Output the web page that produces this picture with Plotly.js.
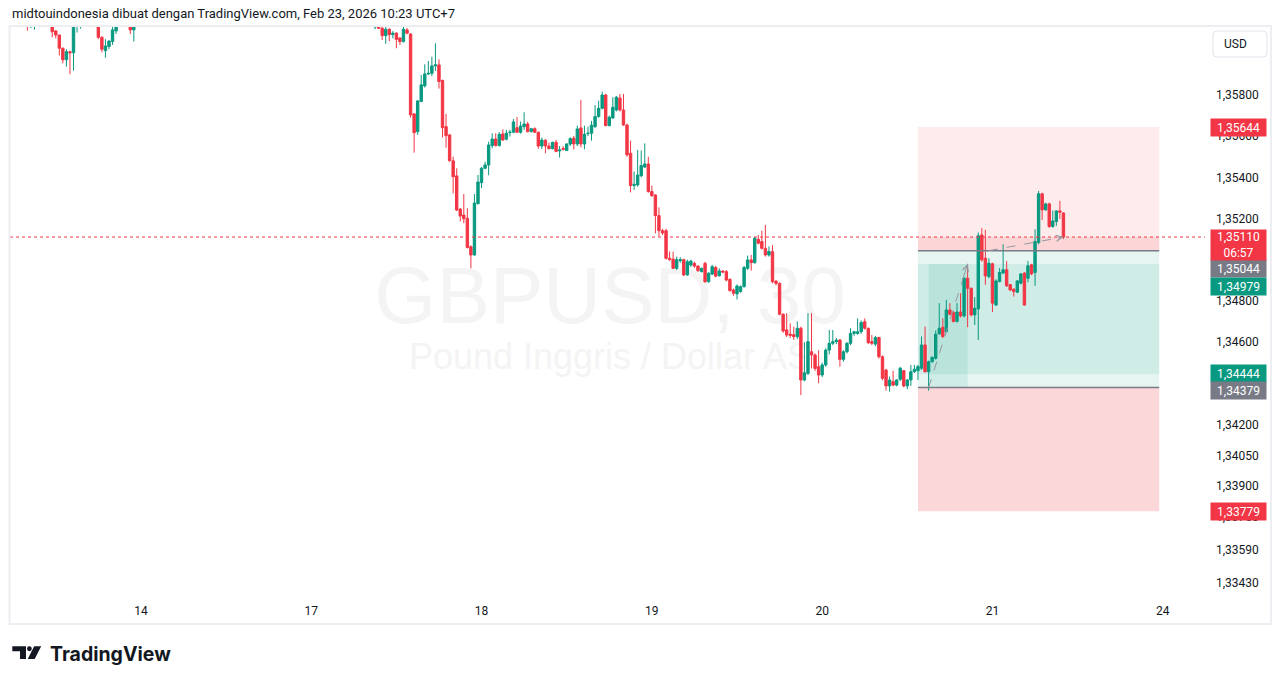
<!DOCTYPE html>
<html><head><meta charset="utf-8">
<script src="https://cdn.plot.ly/plotly-3.0.1.min.js"></script>
<style>html,body{margin:0;padding:0;background:#fff;}#chart{width:1281px;height:684px;}</style>
</head><body><div id="chart"></div>
<script>
// ---------- DATA (GBPUSD 30m, candle index; 48 candles per day) ----------
const dayTickIdx = [0, 48, 96, 144, 192, 240, 288];
const dayTickText = ['14', '17', '18', '19', '20', '21', '24'];

// segment 1: candles idx -32 .. -2 (mostly above visible range)
const seg1Start = -32;
const open1  = [1.3618,1.3614,1.3615,null,null,null,null,1.3617,1.36111,1.36091,1.36027,1.35971,1.36010,1.36005,1.3614,1.3616,null,null,null,null,1.3615,1.36080,1.36015,1.36035,1.36060,1.36111,null,null,null,1.3616,1.36116];
const high1  = [1.3620,1.3619,1.3619,null,null,null,null,1.3619,1.36115,1.36093,1.3603,1.36022,1.36015,1.3617,1.3620,1.3621,null,null,null,null,1.3617,1.36085,1.36071,1.36065,1.3614,1.3617,null,null,null,1.3618,1.3618];
const low1   = [1.36112,1.36125,1.36117,null,null,null,null,1.36080,1.36075,1.35991,1.35954,1.35937,1.35901,1.35918,1.36103,1.36122,null,null,null,null,1.36071,1.36007,1.35981,1.36022,1.36043,1.36096,null,null,null,1.36096,1.36059];
const close1 = [1.3616,1.3617,1.3618,null,null,null,null,1.36107,1.36091,1.36027,1.35971,1.36010,1.36005,1.3614,1.3618,1.3619,null,null,null,null,1.36080,1.36022,1.36038,1.36062,1.36116,1.3615,null,null,null,1.36116,1.3616];

// segment 2: candles idx 66 .. 260
const seg2Start = 66;
const open2 = [
 1.3613,1.3614,1.36124,1.36088,1.36119,1.36093,1.36100,1.36077,1.36059,1.36116,
 1.36096,1.35708,1.35622,1.35768,1.35844,1.35902,1.35905,1.35941,1.35946,1.35870,
 1.35646,1.35606,1.35480,1.35407,1.35246,1.35217,1.35201,1.35063,1.35023,1.35272,
 1.35374,1.35444,1.35460,1.35554,1.35586,1.35554,1.35611,1.35585,1.35617,1.35619,
 1.35641,1.35619,1.35646,1.35659,1.35622,1.35636,1.35619,1.35552,1.35580,1.35552,
 1.35539,1.35570,1.35528,1.35540,1.35530,1.35562,1.35590,1.35562,1.35640,1.35562,
 1.35612,1.35614,1.35646,1.35695,1.35735,1.35800,1.35651,1.35688,1.35727,1.35785,
 1.35727,1.35654,1.35517,1.35360,1.35363,1.35408,1.35450,1.35465,1.35331,1.35314,
 1.35214,1.35141,1.35141,1.35007,1.35003,1.34958,1.34995,1.35000,1.34926,1.34974,
 1.34982,1.34969,1.34942,1.34982,1.34893,1.34930,1.34962,1.34922,1.34945,1.34942,
 1.34904,1.34853,1.34834,1.34845,1.34869,1.34958,1.34999,1.34986,1.35099,1.35088,
 1.35055,1.35023,1.35039,1.34896,1.34885,1.34735,1.34659,1.34638,1.34636,1.34626,
 1.34667,1.34416,1.34448,1.34553,1.34537,1.34480,1.34440,1.34489,1.34561,1.34594,
 1.34602,1.34610,1.34516,1.34553,1.34594,1.34642,1.34642,1.34650,1.34699,1.34667,
 1.34602,1.34590,1.34622,1.34529,1.34464,1.34387,1.34408,1.34391,1.34419,1.34461,
 1.34387,1.34416,1.34456,1.34461,1.34473,1.34586,1.34456,1.34505,1.34521,1.34640,
 1.34672,1.34651,1.34756,1.34743,1.34700,1.34746,1.34727,1.34910,1.34861,1.34732,
 1.34761,1.35120,1.35007,1.34918,1.34980,1.34780,1.34894,1.34935,1.34951,1.34879,
 1.34857,1.34842,1.34886,1.34935,1.34910,1.34975,1.34938,1.35083,1.35320,1.35242,
 1.35271,1.35161,1.35185,1.35237,1.35227];
const high2 = [
 1.3617,1.3616,1.3614,1.3613,1.36124,1.36110,1.36105,1.36080,1.3614,1.36125,
 1.36100,1.35712,1.35775,1.35897,1.35949,1.35965,1.35986,1.36051,1.35973,1.35875,
 1.35708,1.35610,1.35500,1.35444,1.35250,1.35319,1.35250,1.35070,1.35319,1.35411,
 1.35450,1.35476,1.35573,1.35614,1.35614,1.35620,1.35633,1.35630,1.35630,1.35683,
 1.35692,1.35671,1.35716,1.35669,1.35640,1.35643,1.35622,1.35593,1.35585,1.35568,
 1.35573,1.35581,1.35552,1.35552,1.35565,1.35594,1.35601,1.35651,1.35776,1.35651,
 1.35646,1.35674,1.35751,1.35772,1.35816,1.35805,1.35700,1.35789,1.35795,1.35805,
 1.35805,1.35660,1.35578,1.35428,1.35533,1.35530,1.35565,1.35500,1.35360,1.35318,
 1.35254,1.35150,1.35150,1.35040,1.35039,1.35015,1.35012,1.35005,1.35000,1.35000,
 1.34990,1.34972,1.34962,1.34990,1.34940,1.34975,1.34970,1.34958,1.34948,1.34950,
 1.34910,1.34860,1.34880,1.34875,1.34970,1.35020,1.35023,1.35112,1.35120,1.35141,
 1.35169,1.35065,1.35071,1.34900,1.34890,1.34740,1.34740,1.34691,1.34675,1.34700,
 1.34675,1.34600,1.34740,1.34740,1.34545,1.34560,1.34500,1.34570,1.34659,1.34659,
 1.34620,1.34615,1.34560,1.34600,1.34667,1.34655,1.34715,1.34705,1.34715,1.34670,
 1.34634,1.34630,1.34626,1.34535,1.34470,1.34432,1.34460,1.34420,1.34480,1.34465,
 1.34420,1.34489,1.34489,1.34489,1.34627,1.34675,1.34510,1.34530,1.34656,1.34789,
 1.34716,1.34805,1.34789,1.34750,1.34789,1.34837,1.34915,1.34980,1.34865,1.34818,
 1.35132,1.35153,1.35145,1.35007,1.34985,1.34905,1.34959,1.35075,1.34993,1.34882,
 1.34860,1.34900,1.34935,1.34940,1.34994,1.34980,1.35148,1.35334,1.35325,1.35277,
 1.35277,1.35239,1.35240,1.35286,1.35230];
const low2 = [
 1.36119,1.36120,1.36067,1.36048,1.36061,1.36075,1.36027,1.36043,1.36055,1.36095,
 1.35690,1.35520,1.35606,1.35765,1.35836,1.35897,1.35892,1.35917,1.35831,1.35593,
 1.35544,1.35476,1.35322,1.35236,1.35186,1.35177,1.35055,1.34958,1.35020,1.35268,
 1.35347,1.35439,1.35410,1.35541,1.35550,1.35550,1.35578,1.35580,1.35598,1.35614,
 1.35615,1.35612,1.35630,1.35618,1.35618,1.35615,1.35539,1.35538,1.35517,1.35536,
 1.35536,1.35522,1.35496,1.35530,1.35528,1.35552,1.35536,1.35552,1.35546,1.35536,
 1.35600,1.35578,1.35640,1.35690,1.35730,1.35648,1.35648,1.35685,1.35720,1.35720,
 1.35650,1.35500,1.35327,1.35339,1.35355,1.35400,1.35445,1.35325,1.35305,1.35128,
 1.35112,1.35120,1.35000,1.34995,1.34955,1.34950,1.34985,1.34920,1.34922,1.34965,
 1.34960,1.34940,1.34938,1.34888,1.34888,1.34925,1.34915,1.34918,1.34935,1.34895,
 1.34845,1.34825,1.34807,1.34840,1.34865,1.34950,1.34947,1.34980,1.35075,1.35050,
 1.35015,1.35015,1.34885,1.34875,1.34730,1.34645,1.34625,1.34620,1.34610,1.34615,
 1.34343,1.34410,1.34440,1.34472,1.34460,1.34400,1.34430,1.34480,1.34540,1.34585,
 1.34590,1.34481,1.34505,1.34545,1.34585,1.34630,1.34635,1.34640,1.34660,1.34590,
 1.34585,1.34580,1.34520,1.34415,1.34364,1.34359,1.34385,1.34385,1.34410,1.34380,
 1.34371,1.34387,1.34450,1.34416,1.34465,1.34452,1.34364,1.34500,1.34515,1.34635,
 1.34620,1.34645,1.34730,1.34695,1.34695,1.34720,1.34720,1.34672,1.34724,1.34683,
 1.34610,1.34990,1.34878,1.34910,1.34746,1.34775,1.34890,1.34930,1.34868,1.34848,
 1.34821,1.34838,1.34880,1.34777,1.34890,1.34925,1.34873,1.35075,1.35193,1.35238,
 1.35155,1.35155,1.35164,1.35198,1.35100];
const close2 = [
 1.3615,1.36124,1.36088,1.36119,1.36093,1.36100,1.36070,1.36059,1.36119,1.36100,
 1.35703,1.35617,1.35771,1.35849,1.35902,1.35905,1.35941,1.35946,1.35865,1.35641,
 1.35602,1.35481,1.35403,1.35241,1.35212,1.35199,1.35059,1.35023,1.35275,1.35377,
 1.35444,1.35460,1.35557,1.35586,1.35554,1.35609,1.35581,1.35614,1.35619,1.35669,
 1.35619,1.35649,1.35659,1.35622,1.35636,1.35619,1.35552,1.35581,1.35552,1.35539,
 1.35570,1.35526,1.35533,1.35536,1.35562,1.35588,1.35562,1.35635,1.35562,1.35609,
 1.35614,1.35653,1.35695,1.35735,1.35800,1.35651,1.35692,1.35740,1.35789,1.35727,
 1.35654,1.35509,1.35360,1.35366,1.35411,1.35457,1.35465,1.35331,1.35311,1.35214,
 1.35141,1.35130,1.35007,1.35001,1.34958,1.35000,1.35000,1.34926,1.34990,1.34993,
 1.34969,1.34947,1.34958,1.34893,1.34934,1.34966,1.34920,1.34945,1.34940,1.34901,
 1.34850,1.34837,1.34872,1.34869,1.34962,1.34999,1.34986,1.35104,1.35080,1.35055,
 1.35023,1.35040,1.34893,1.34885,1.34735,1.34654,1.34634,1.34632,1.34626,1.34667,
 1.34416,1.34451,1.34602,1.34537,1.34472,1.34440,1.34489,1.34561,1.34594,1.34602,
 1.34610,1.34516,1.34553,1.34594,1.34642,1.34650,1.34650,1.34695,1.34667,1.34597,
 1.34594,1.34622,1.34529,1.34424,1.34387,1.34416,1.34391,1.34416,1.34473,1.34387,
 1.34416,1.34456,1.34468,1.34481,1.34586,1.34456,1.34505,1.34526,1.34638,1.34667,
 1.34627,1.34756,1.34735,1.34700,1.34746,1.34727,1.34910,1.34861,1.34732,1.34764,
 1.35116,1.34999,1.34921,1.34983,1.34789,1.34897,1.34938,1.34951,1.34873,1.34853,
 1.34845,1.34897,1.34931,1.34780,1.34970,1.34931,1.35088,1.35320,1.35242,1.35271,
 1.35161,1.35188,1.35237,1.35231,1.35110];

// y-axis tick values (1,35000 and 1,34400 are fully hidden under price labels in the reference)
const yTickVals = [1.358,1.356,1.354,1.352,1.348,1.346,1.342,1.3405,1.339,1.3375,1.3359,1.3343];

// position tools (prices) and their bar indexes
const shortEntry = 1.35044, shortStop = 1.35644, shortTarget = 1.34444;
const longEntry = 1.34379, longTarget = 1.34979, longStop = 1.33779;
const posStartIdx = 219, posEndIdx = 287;
const longEntryIdx = 222, longExitIdx = 233;
const shortLineIdx = 239;
const countdown = '06:57';

// ---------- BUILD ----------
const xs = [], O = [], Hh = [], L = [], C = [];
open1.forEach((v,i)=>{xs.push(seg1Start+i);O.push(v);Hh.push(high1[i]);L.push(low1[i]);C.push(close1[i]);});
open2.forEach((v,i)=>{xs.push(seg2Start+i);O.push(v);Hh.push(high2[i]);L.push(low2[i]);C.push(close2[i]);});
const lastClose = close2[close2.length-1];
const lastIdx = seg2Start + close2.length - 1;

const UP = '#089981', DN = '#f23645', GRAY = '#787b86', TXT = '#131722';
const FONT = 'Roboto, "Liberation Sans", Arial, sans-serif';
const fmt = v => v.toFixed(5).replace('.', ',');

const W = 1281, Hgt = 684, ML = 10, MR = 76, MT = 27, MB = 87;
const plotW = W - ML - MR, plotH = Hgt - MT - MB;
const px = X => (X - ML) / plotW;
const py = Y => (Hgt - MB - Y) / plotH;

const trace = {
  type: 'candlestick', x: xs, open: O, high: Hh, low: L, close: C,
  increasing: {line: {color: UP, width: 1}, fillcolor: UP},
  decreasing: {line: {color: DN, width: 1}, fillcolor: DN},
  whiskerwidth: 0, hoverinfo: 'skip', showlegend: false
};

const shapes = [];
function rectY(x0, x1, y0, y1, fill, layer) {
  shapes.push({type:'rect', xref:'x', yref:'y', x0, x1, y0, y1, fillcolor: fill, line:{width:0}, layer: layer||'below'});
}
// watermark
shapes.push({type:'rect', xref:'paper', yref:'paper', x0:px(510), x1:px(710), y0:py(317), y1:py(257),
  line:{width:0}, fillcolor:'rgba(0,0,0,0)', layer:'below',
  label:{text:'GBPUSD, 30', textposition:'middle center', font:{size:80, color:'#f4f4f4', family:'"Liberation Sans", Arial, sans-serif'}}});
shapes.push({type:'rect', xref:'paper', yref:'paper', x0:px(510), x1:px(710), y0:py(370), y1:py(336),
  line:{width:0}, fillcolor:'rgba(0,0,0,0)', layer:'below',
  label:{text:'Pound Inggris / Dollar AS', textposition:'middle center', font:{size:36, color:'#f4f4f4', family:'"Liberation Sans", Arial, sans-serif'}}});

// position boxes
rectY(posStartIdx, posEndIdx, shortEntry, shortStop, 'rgba(242,54,69,0.10)');
rectY(posStartIdx, posEndIdx, shortEntry, lastClose, 'rgba(242,54,69,0.12)');
rectY(posStartIdx, posEndIdx, shortTarget, shortEntry, 'rgba(8,153,129,0.10)');
rectY(posStartIdx, posEndIdx, longEntry, longTarget, 'rgba(8,153,129,0.10)');
rectY(longEntryIdx, longExitIdx, longEntry, longTarget, 'rgba(8,153,129,0.10)');
rectY(posStartIdx, posEndIdx, longStop, longEntry, 'rgba(242,54,69,0.20)');
// entry lines
[shortEntry, longEntry].forEach(v => shapes.push({type:'line', xref:'x', yref:'y', x0:posStartIdx, x1:posEndIdx, y0:v, y1:v, line:{color:GRAY, width:1.5}, layer:'above'}));
// current price dotted line
shapes.push({type:'line', xref:'paper', yref:'y', x0:0, x1:1, y0:lastClose, y1:lastClose, line:{color:DN, width:1, dash:'dot'}, layer:'above'});
// trade path dashed lines
shapes.push({type:'line', xref:'x', yref:'y', x0:longEntryIdx, y0:longEntry, x1:longExitIdx, y1:longTarget, line:{color:'#9598a1', width:1, dash:'dash'}, layer:'above'});
shapes.push({type:'line', xref:'x', yref:'y', x0:shortLineIdx, y0:shortEntry, x1:lastIdx, y1:lastClose, line:{color:'#9598a1', width:1, dash:'dash'}, layer:'above'});

// frame
shapes.push({type:'rect', xref:'paper', yref:'paper', x0:px(9.5), x1:px(1271), y0:py(624), y1:py(26), line:{color:'#eceef2', width:2}, fillcolor:'rgba(0,0,0,0)', layer:'above'});
// USD box
(function(){
  const x1=1213,x2=1267,y1=31,y2=57,r=4;
  const P=(X,Y)=>px(X)+','+py(Y);
  const path='M'+P(x1+r,y1)+' L'+P(x2-r,y1)+' Q'+P(x2,y1)+' '+P(x2,y1+r)+' L'+P(x2,y2-r)+' Q'+P(x2,y2)+' '+P(x2-r,y2)+' L'+P(x1+r,y2)+' Q'+P(x1,y2)+' '+P(x1,y2-r)+' L'+P(x1,y1+r)+' Q'+P(x1,y1)+' '+P(x1+r,y1)+' Z';
  shapes.push({type:'path', xref:'paper', yref:'paper', path, line:{color:'#e0e3eb', width:1}, fillcolor:'#ffffff', layer:'above'});
})();
// TradingView logo glyph
(function(){
  const P=(X,Y)=>px(X)+','+py(Y);
  const poly = pts => 'M' + pts.map(p=>P(p[0],p[1])).join(' L') + ' Z';
  shapes.push({type:'path', xref:'paper', yref:'paper', path: poly([[12.3,646.3],[26,646.3],[26,659],[20,659],[20,651.2],[12.3,651.2]]), line:{width:0}, fillcolor:TXT, layer:'above'});
  shapes.push({type:'circle', xref:'paper', yref:'paper', x0:px(27), x1:px(31.8), y0:py(651.2), y1:py(646.3), line:{width:0}, fillcolor:TXT, layer:'above'});
  shapes.push({type:'path', xref:'paper', yref:'paper', path: poly([[34.2,646.3],[41.2,646.3],[34.7,659],[27.7,659]]), line:{width:0}, fillcolor:TXT, layer:'above'});
})();

const annotations = [];
// header
annotations.push({xref:'paper', yref:'paper', x:px(10), y:py(14), xanchor:'left', yanchor:'middle', showarrow:false,
  text:'midtouindonesia dibuat dengan TradingView.com, Feb 23, 2026 10:23 UTC+7', font:{family:FONT, size:13, color:TXT}});
// logo text
annotations.push({xref:'paper', yref:'paper', x:px(48), y:py(654), xanchor:'left', yanchor:'middle', showarrow:false,
  text:'TradingView', font:{family:'Inter, Roboto, sans-serif', size:19.5, color:TXT, weight:700}});
// USD
annotations.push({xref:'paper', yref:'paper', x:px(1222), y:py(44), xanchor:'left', yanchor:'middle', showarrow:false,
  text:'USD', font:{family:FONT, size:12, color:TXT}});
// price labels
function priceLabel(v, bg, shift) {
  annotations.push({xref:'paper', yref:'y', x:px(1210), y:v, xanchor:'left', yanchor:'middle', yshift:shift||0,
    showarrow:false, text:fmt(v), width:55, height:17, align:'center', bgcolor:bg, borderpad:0,
    font:{family:FONT, size:12, color:'#ffffff'}});
}
priceLabel(shortStop, DN, 0);
priceLabel(shortEntry, GRAY, -18);
priceLabel(longTarget, UP, -22);
priceLabel(shortTarget, UP, 1);
priceLabel(longEntry, GRAY, -3);
priceLabel(longStop, DN, 0);
annotations.push({xref:'paper', yref:'y', x:px(1210), y:lastClose, xanchor:'left', yanchor:'top', yshift:8,
  showarrow:false, text:fmt(lastClose)+'<br>'+countdown, width:55, height:30, align:'center', bgcolor:DN, borderpad:0,
  font:{family:FONT, size:12, color:'#ffffff'}});
// arrowheads for trade paths
annotations.push({xref:'x', yref:'y', axref:'x', ayref:'y', x:longExitIdx, y:longTarget, ax:longExitIdx-1.2, ay:longTarget-0.00065,
  showarrow:true, arrowhead:5, arrowsize:1.2, arrowwidth:1, arrowcolor:'#9598a1', text:''});
annotations.push({xref:'x', yref:'y', axref:'x', ayref:'y', x:lastIdx, y:lastClose, ax:lastIdx-2, ay:lastClose-0.00006,
  showarrow:true, arrowhead:5, arrowsize:1.2, arrowwidth:1, arrowcolor:'#9598a1', text:''});

const layout = {
  width: W, height: Hgt,
  margin: {l: ML, r: MR, t: MT, b: MB, pad: 0},
  paper_bgcolor: '#ffffff', plot_bgcolor: '#ffffff',
  font: {family: FONT, size: 12, color: TXT},
  showlegend: false, dragmode: false,
  boxgap: 0.25, boxgroupgap: 0.1,
  xaxis: {range: [-36.9, 299.9], tickvals: dayTickIdx, ticktext: dayTickText, showgrid: false, zeroline: false,
    showline: false, ticks: '', ticklabelstandoff: 5, tickfont: {family: FONT, size: 12, color: TXT}, rangeslider: {visible: false}, fixedrange: true},
  yaxis: {side: 'right', range: [1.33362, 1.36130], tickvals: yTickVals, ticktext: yTickVals.map(fmt),
    showgrid: false, zeroline: false, showline: false, ticks: '', ticklabelstandoff: 10,
    tickfont: {family: FONT, size: 12, color: TXT}, fixedrange: true},
  shapes, annotations
};

Plotly.newPlot('chart', [trace], layout, {staticPlot: true, displayModeBar: false});
</script></body></html>
